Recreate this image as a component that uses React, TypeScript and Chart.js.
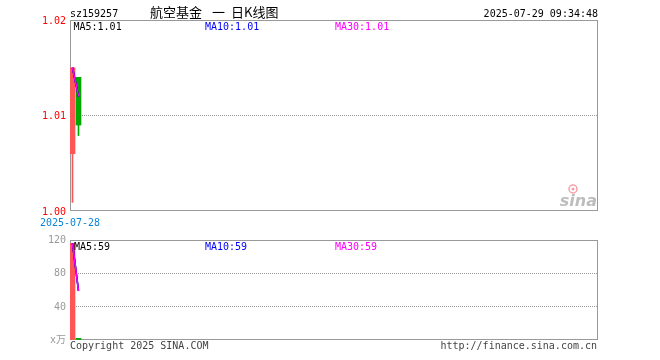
import React, { useEffect, useRef } from 'react';
import { Chart, registerables } from 'chart.js';

Chart.register(...registerables);

// ---------- data ----------
const stockCode = 'sz159257';
const titleParts = ['航空基金', '一', '日K线图'];
const timestamp = '2025-07-29 09:34:48';
const dates = ['2025-07-28', '2025-07-29'];
const openPrices = [1.006, 1.014];
const closePrices = [1.015, 1.009];
const highPrices = [1.015, 1.014];
const lowPrices = [1.0009, 1.0079];
const priceMA5 = [1.015, 1.012];
const priceMA10 = [1.015, 1.012];
const priceMA30 = [1.015, 1.012];
const volumes = [116, 2];
const volumeMA5 = [116, 59];
const volumeMA10 = [116, 59];
const volumeMA30 = [116, 59];
const priceTicks = [1.0, 1.01, 1.02];
const volumeTicks = [0, 40, 80, 120];
const volumeUnit = 'x万';
const copyrightText = 'Copyright 2025 SINA.COM';
const urlText = 'http://finance.sina.com.cn';
const watermarkText = 'sina';
const slotCount = 88;

// ---------- styles ----------
const MONO = "'DejaVu Sans Mono', 'Noto Sans CJK SC', monospace";
const CJK = "'Noto Sans CJK SC', sans-serif";
const RED = '#ff5555';
const GREEN = '#00a800';
const MA5_COLOR = '#000000';
const MA10_COLOR = '#0000ff';
const MA30_COLOR = '#ff00ff';
const BOX_COLOR = '#999999';
const GRID_COLOR = '#999999';

const candleColors = dates.map((_, i) => (closePrices[i] >= openPrices[i] ? RED : GREEN));
const xMin = -2.5 / 6;

const xScale: any = {
  type: 'linear',
  display: false,
  offset: false,
  grid: { offset: false },
  min: xMin,
  max: slotCount + xMin,
};

const lineDs = (label: string, values: number[], color: string, order: number) => ({
  type: 'line',
  label,
  data: values.map((v, i) => ({ x: i, y: v })),
  borderColor: color,
  borderWidth: 1.5,
  pointRadius: 0,
  tension: 0,
  fill: false,
  order,
});

const boxPlugin = {
  id: 'boxPlugin',
  beforeDatasetsDraw(chart: any) {
    const { ctx, chartArea: a } = chart;
    ctx.save();
    ctx.strokeStyle = BOX_COLOR;
    ctx.lineWidth = 1;
    ctx.strokeRect(a.left + 0.5, a.top + 0.5, a.right - a.left - 1, a.bottom - a.top - 1);
    ctx.restore();
  },
};

function PriceChart() {
  const ref = useRef<HTMLCanvasElement | null>(null);
  useEffect(() => {
    if (!ref.current) return;
    const textPlugin = {
      id: 'priceText',
      afterDraw(chart: any) {
        const { ctx, chartArea: a } = chart;
        ctx.save();
        ctx.textBaseline = 'alphabetic';
        ctx.font = `10px ${MONO}`;
        ctx.fillStyle = '#000';
        ctx.textAlign = 'left';
        ctx.fillText(stockCode, a.left, 16.5);
        ctx.textAlign = 'right';
        ctx.fillText(timestamp, a.right, 16.5);
        // title
        ctx.font = `13px ${CJK}`;
        ctx.textAlign = 'left';
        ctx.textBaseline = 'middle';
        ctx.fillText(titleParts[0], 150, 12);
        ctx.fillText(titleParts[1], 212, 12);
        ctx.fillText(titleParts[2], 231, 12);
        // MA labels
        ctx.font = `10px ${MONO}`;
        ctx.textBaseline = 'alphabetic';
        const last = dates.length - 1;
        ctx.fillStyle = MA5_COLOR;
        ctx.fillText('MA5:' + priceMA5[last].toFixed(2), a.left + 3.5, 30);
        ctx.fillStyle = MA10_COLOR;
        ctx.fillText('MA10:' + priceMA10[last].toFixed(2), 205, 30);
        ctx.fillStyle = MA30_COLOR;
        ctx.fillText('MA30:' + priceMA30[last].toFixed(2), 335, 30);
        // first date under axis
        ctx.fillStyle = '#0a84d6';
        ctx.textAlign = 'center';
        ctx.fillText(dates[0], a.left, 225.5);
        // watermark
        ctx.font = `italic bold 16px 'DejaVu Sans', sans-serif`;
        ctx.fillStyle = '#bdbdbd';
        ctx.textAlign = 'right';
        ctx.fillText(watermarkText, a.right - 1, 206);
        ctx.strokeStyle = '#f4a0a8';
        ctx.lineWidth = 1.5;
        ctx.beginPath();
        ctx.arc(573, 189, 4, 0, Math.PI * 2);
        ctx.stroke();
        ctx.fillStyle = '#f4a0a8';
        ctx.beginPath();
        ctx.arc(573, 189, 1.5, 0, Math.PI * 2);
        ctx.fill();
        ctx.restore();
      },
    };
    const chart = new Chart(ref.current, {
      type: 'bar',
      data: {
        datasets: [
          lineDs('MA30', priceMA30, MA30_COLOR, -3),
          lineDs('MA10', priceMA10, MA10_COLOR, -2),
          lineDs('MA5', priceMA5, MA5_COLOR, -1),
          {
            type: 'bar',
            label: 'body',
            data: dates.map((_, i) => ({ x: i, y: [openPrices[i], closePrices[i]] })),
            backgroundColor: candleColors,
            borderWidth: 0,
            barThickness: 5,
            grouped: false,
            order: 1,
          },
          {
            type: 'bar',
            label: 'wick',
            data: dates.map((_, i) => ({ x: i, y: [lowPrices[i], highPrices[i]] })),
            backgroundColor: candleColors,
            borderWidth: 0,
            barThickness: 1,
            grouped: false,
            order: 2,
          },
        ] as any,
      },
      options: {
        animation: false,
        responsive: false,
        layout: { padding: { top: 20, right: 62, bottom: 19, left: 0 } },
        plugins: { legend: { display: false }, tooltip: { enabled: false } },
        scales: {
          x: xScale,
          y: {
            type: 'linear',
            min: priceTicks[0],
            max: priceTicks[priceTicks.length - 1],
            afterBuildTicks: (s: any) => {
              s.ticks = priceTicks.map((v) => ({ value: v }));
            },
            afterFit: (s: any) => {
              s.width = 70;
            },
            ticks: {
              callback: (v: any) => Number(v).toFixed(2),
              color: '#ff0000',
              font: { family: MONO, size: 10 },
              padding: 4,
              labelOffset: 1,
            },
            grid: {
              drawTicks: false,
              color: (c: any) => (c.index > 0 && c.index < priceTicks.length - 1 ? GRID_COLOR : 'rgba(0,0,0,0)'),
              lineWidth: 1,
            },
            border: { display: false, dash: [1, 1] },
          },
        },
      } as any,
      plugins: [boxPlugin, textPlugin],
    });
    return () => chart.destroy();
  }, []);
  return <canvas ref={ref} width={660} height={230} style={{ display: 'block', position: 'absolute', left: 0, top: 0 }} />;
}

function VolumeChart() {
  const ref = useRef<HTMLCanvasElement | null>(null);
  useEffect(() => {
    if (!ref.current) return;
    const textPlugin = {
      id: 'volText',
      afterDraw(chart: any) {
        const { ctx, chartArea: a } = chart;
        ctx.save();
        ctx.font = `10px ${MONO}`;
        ctx.textBaseline = 'alphabetic';
        ctx.textAlign = 'left';
        const last = dates.length - 1;
        ctx.fillStyle = MA5_COLOR;
        ctx.fillText('MA5:' + Math.round(volumeMA5[last]), a.left + 4, a.top + 9.5);
        ctx.fillStyle = MA10_COLOR;
        ctx.fillText('MA10:' + Math.round(volumeMA10[last]), 205, a.top + 9.5);
        ctx.fillStyle = MA30_COLOR;
        ctx.fillText('MA30:' + Math.round(volumeMA30[last]), 335, a.top + 9.5);
        ctx.fillStyle = '#444';
        ctx.fillText(copyrightText, a.left, a.bottom + 9);
        ctx.textAlign = 'right';
        ctx.fillText(urlText, a.right - 1, a.bottom + 9);
        ctx.restore();
      },
    };
    const chart = new Chart(ref.current, {
      type: 'bar',
      data: {
        datasets: [
          lineDs('MA30', volumeMA30, MA30_COLOR, -3),
          lineDs('MA10', volumeMA10, MA10_COLOR, -2),
          lineDs('MA5', volumeMA5, MA5_COLOR, -1),
          {
            type: 'bar',
            label: 'volume',
            data: dates.map((_, i) => ({ x: i, y: volumes[i] })),
            backgroundColor: candleColors,
            borderWidth: 0,
            barThickness: 5,
            grouped: false,
            order: 1,
          },
        ] as any,
      },
      options: {
        animation: false,
        responsive: false,
        layout: { padding: { top: 10, right: 62, bottom: 20, left: 0 } },
        plugins: { legend: { display: false }, tooltip: { enabled: false } },
        scales: {
          x: xScale,
          y: {
            type: 'linear',
            min: volumeTicks[0],
            max: volumeTicks[volumeTicks.length - 1],
            afterBuildTicks: (s: any) => {
              s.ticks = volumeTicks.map((v) => ({ value: v }));
            },
            afterFit: (s: any) => {
              s.width = 70;
            },
            ticks: {
              callback: (v: any) => (Number(v) === 0 ? volumeUnit : String(v)),
              color: '#999999',
              font: { family: MONO, size: 10 },
              padding: 4,
              labelOffset: 0.5,
            },
            grid: {
              drawTicks: false,
              color: (c: any) => (c.index > 0 && c.index < volumeTicks.length - 1 ? GRID_COLOR : 'rgba(0,0,0,0)'),
              lineWidth: 1,
            },
            border: { display: false, dash: [1, 1] },
          },
        },
      } as any,
      plugins: [boxPlugin, textPlugin],
    });
    return () => chart.destroy();
  }, []);
  return <canvas ref={ref} width={660} height={130} style={{ display: 'block', position: 'absolute', left: 0, top: 230 }} />;
}

export default function App() {
  return (
    <div style={{ position: 'fixed', left: 0, top: 0, width: 660, height: 360, background: '#fff', overflow: 'hidden' }}>
      <PriceChart />
      <VolumeChart />
    </div>
  );
}
